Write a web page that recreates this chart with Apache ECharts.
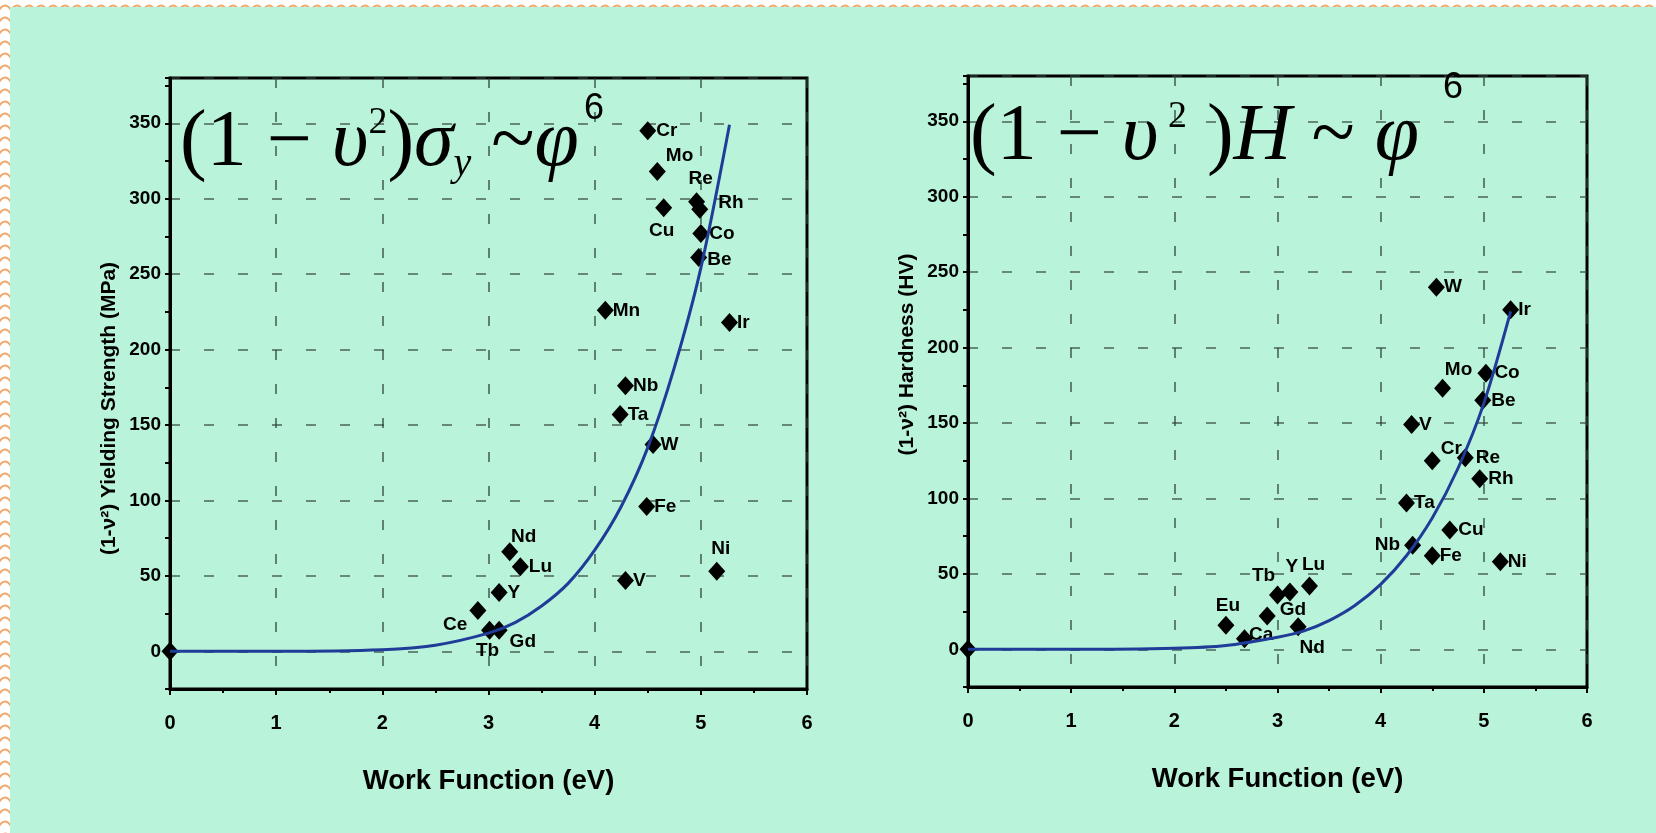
<!DOCTYPE html>
<html>
<head>
<meta charset="utf-8">
<title>Work function vs yielding strength and hardness</title>
<script src="https://cdn.jsdelivr.net/npm/echarts@6/dist/echarts.min.js"></script>
<style>
  html, body { margin: 0; padding: 0; width: 1656px; height: 833px; overflow: hidden; }
  body {
    background-color: #fff;
    background-image: url("data:image/svg+xml;utf8,<svg xmlns='http://www.w3.org/2000/svg' width='12' height='12'><path d='M-1 10 Q5 1 11 10' fill='none' stroke='%23f0a768' stroke-width='2'/></svg>");
  }
  #bg { position: absolute; left: 10px; top: 7px; right: 0; bottom: 0; background: #b9f3d9; }
  #chart { position: absolute; left: 0; top: 0; width: 1656px; height: 833px; }
</style>
</head>
<body>
<div id="bg"></div>
<div id="chart"></div>
<script>
// 左图：屈服强度 vs 功函数
const sNames = ['', 'Cr', 'Mo', 'Re', 'Rh', 'Cu', 'Co', 'Be', 'Mn', 'Ir', 'Nb', 'Ta', 'W', 'Fe', 'Nd', 'Lu', 'Y', 'Ce', 'Tb', 'Gd', 'V', 'Ni'];
const sWork = [0, 4.50, 4.59, 4.96, 4.99, 4.65, 5.00, 4.98, 4.10, 5.27, 4.29, 4.24, 4.55, 4.49, 3.20, 3.30, 3.10, 2.90, 3.01, 3.10, 4.29, 5.15];
const sYield = [0, 345, 318, 298, 293, 294, 277, 261, 226, 218, 176, 157, 137, 96, 66, 56, 39, 27, 14, 14, 47, 53];

// 右图：硬度 vs 功函数
const hNames = ['', 'W', 'Ir', 'Mo', 'Co', 'Be', 'V', 'Cr', 'Re', 'Rh', 'Ta', 'Nb', 'Cu', 'Fe', 'Ni', 'Tb', 'Y', 'Lu', 'Eu', 'Ca', 'Gd', 'Nd'];
const hWork = [0, 4.54, 5.26, 4.60, 5.02, 4.99, 4.30, 4.50, 4.82, 4.96, 4.25, 4.31, 4.67, 4.50, 5.16, 3.00, 3.12, 3.31, 2.50, 2.68, 2.90, 3.20];
const hHard = [0, 240, 225, 173, 183, 165, 149, 125, 127, 113, 97, 69, 79, 62, 58, 36, 38, 42, 16, 7, 22, 15];

// 拟合曲线（从图上读的点）
const sFitX = [0, 1, 2, 2.5, 3, 3.25, 3.5, 3.75, 4, 4.25, 4.5, 4.75, 5, 5.27];
const sFitY = [0, 0, 1, 4, 12, 19, 30, 45, 67, 96, 135, 188, 254, 349];
const hFitX = [0, 1, 2, 2.5, 3, 3.25, 3.5, 3.75, 4, 4.25, 4.5, 4.75, 5, 5.26];
const hFitY = [0, 0, 0.7, 2.5, 8, 12, 19, 29, 43, 62, 87, 120, 163, 224];

const xTickLabels = ['0', '1', '2', '3', '4', '5', '6'];
const yTickLabels = ['0', '50', '100', '150', '200', '250', '300', '350'];

// 标签位置 [position, dx, dy]
const sLabelPos = {
  Cr: ['right', -2, 0], Mo: ['right', -2, -16], Re: ['top', 4, -2], Rh: ['right', 8, -6],
  Cu: ['bottom', -2, 2], Co: ['right', -2, 0], Be: ['right', -2, 2], Mn: ['right', -3, 0],
  Ir: ['right', -3, 0], Nb: ['right', -3, 0], Ta: ['right', -3, 0], W: ['right', -3, 0],
  Fe: ['right', -3, 0], Nd: ['top', 14, 6], Lu: ['right', -2, 0], Y: ['right', -2, 0],
  Ce: ['left', 0, 14], Tb: ['bottom', -2, 0], Gd: ['right', 0, 12], V: ['right', -3, 0],
  Ni: ['top', 4, -2]
};
const hLabelPos = {
  W: ['right', -3, 0], Ir: ['right', -3, 0], Mo: ['top', 16, 2], Co: ['right', -2, 0],
  Be: ['right', -2, 0], V: ['right', -3, 0], Cr: ['right', -2, -12], Re: ['right', 0, 0],
  Rh: ['right', -2, 0], Ta: ['right', -3, 0], Nb: ['left', -2, 0], Cu: ['right', -2, 0],
  Fe: ['right', -3, 0], Ni: ['right', -3, 0], Tb: ['top', -14, 2], Y: ['top', 2, -4],
  Lu: ['top', 4, 0], Eu: ['top', 2, 2], Ca: ['right', -6, -4], Gd: ['right', 2, -6],
  Nd: ['bottom', 14, 0]
};

const ink = '#000';
const gridColor = 'rgba(45,65,58,0.8)';
const boldFont = { fontFamily: 'Liberation Sans', fontWeight: 'bold', color: ink };

function points(names, xs, ys, posMap) {
  return names.map(function (n, i) {
    const p = posMap[n];
    const item = { name: n, value: [xs[i], ys[i]] };
    item.label = p ? { show: true, position: p[0], offset: [p[1], p[2]] } : { show: false };
    return item;
  });
}

function pairs(xs, ys) {
  return xs.map(function (x, i) { return [x, ys[i]]; });
}

function xAxisFor(gi) {
  return {
    gridIndex: gi, type: 'value', min: 0, max: 6, interval: 1,
    axisLine: { show: true, onZero: false, lineStyle: { color: ink, width: 3 } },
    axisTick: { show: true, length: 6, lineStyle: { color: ink, width: 2 } },
    minorTick: { show: true, splitNumber: 2, length: 4, lineStyle: { color: ink, width: 2 } },
    axisLabel: Object.assign({ fontSize: 20, margin: 24, formatter: function (v) { return xTickLabels[v]; } }, boldFont),
    splitLine: { show: true, lineStyle: { color: gridColor, width: 1.6, type: [10, 24] } },
    name: 'Work Function (eV)', nameLocation: 'middle', nameGap: 78,
    nameTextStyle: Object.assign({ fontSize: 27.5 }, boldFont)
  };
}

function yAxisFor(gi, name, pad) {
  return {
    gridIndex: gi, type: 'value', min: -25, max: 380, interval: 25,
    axisLine: { show: true, onZero: false, lineStyle: { color: ink, width: 3 } },
    axisTick: { show: true, length: 5, lineStyle: { color: ink, width: 2 } },
    axisLabel: Object.assign({
      fontSize: 19, margin: 9,
      formatter: function (v) { return (v >= 0 && v % 50 === 0) ? yTickLabels[v / 50] : ''; }
    }, boldFont),
    splitLine: { show: true, lineStyle: { color: ['rgba(0,0,0,0)', gridColor], width: 1.6, type: [10, 24] } },
    name: name, nameLocation: 'middle', nameGap: 50,
    nameTextStyle: Object.assign({ fontSize: 21, padding: pad }, boldFont)
  };
}

function scatter(gi, data) {
  return {
    type: 'scatter', xAxisIndex: gi, yAxisIndex: gi,
    symbol: 'diamond', symbolSize: [17, 19],
    itemStyle: { color: '#000', opacity: 1 },
    label: Object.assign({ formatter: '{b}', fontSize: 19, distance: 2 }, boldFont),
    data: data, z: 2
  };
}

function fitLine(gi, data) {
  return {
    type: 'line', xAxisIndex: gi, yAxisIndex: gi, data: data,
    smooth: 0.3, showSymbol: false, silent: true, z: 3,
    lineStyle: { color: '#1f3c98', width: 3 }
  };
}

const formulaRich = {
  m: { fontFamily: 'Liberation Serif', fontSize: 80, color: ink },
  i: { fontFamily: 'Liberation Serif', fontStyle: 'italic', fontSize: 80, color: ink },
  s: { fontFamily: 'Liberation Serif', fontSize: 38, color: ink, verticalAlign: 'top' },
  b: { fontFamily: 'Liberation Serif', fontStyle: 'italic', fontSize: 40, color: ink, verticalAlign: 'bottom' }
};

const chart = echarts.init(document.getElementById('chart'));
chart.setOption({
  animation: false,
  backgroundColor: 'transparent',
  grid: [
    { left: 170, top: 78, width: 637, height: 611, show: true, borderColor: ink, borderWidth: 3, outerBoundsMode: 'none' },
    { left: 968, top: 76, width: 619, height: 611, show: true, borderColor: ink, borderWidth: 3, outerBoundsMode: 'none' }
  ],
  xAxis: [xAxisFor(0), xAxisFor(1)],
  yAxis: [
    yAxisFor(0, '(1-ν²) Yielding Strength (MPa)', [0, 50, 0, 0]),
    yAxisFor(1, '(1-ν²) Hardness (HV)', [0, 0, 0, 54])
  ],
  series: [
    scatter(0, points(sNames, sWork, sYield, sLabelPos)),
    fitLine(0, pairs(sFitX, sFitY)),
    scatter(1, points(hNames, hWork, hHard, hLabelPos)),
    fitLine(1, pairs(hFitX, hFitY))
  ],
  graphic: [
    {
      type: 'text', left: 180, top: 104, z: 10,
      style: { text: '{m|(1 − }{i|υ}{s|2}{m|)}{i|σ}{b|y}{m| ~}{i|φ}', rich: formulaRich }
    },
    { type: 'text', left: 584, top: 91, z: 10, style: { text: '6', font: '36px "Liberation Sans"', fill: ink } },
    {
      type: 'text', left: 970, top: 98, z: 10,
      style: { text: '{m|(1 − }{i|υ}{s| 2}{m| )}{i|H}{m| ~ }{i|φ}', rich: formulaRich }
    },
    { type: 'text', left: 1443, top: 70, z: 10, style: { text: '6', font: '36px "Liberation Sans"', fill: ink } }
  ]
});
</script>
</body>
</html>
